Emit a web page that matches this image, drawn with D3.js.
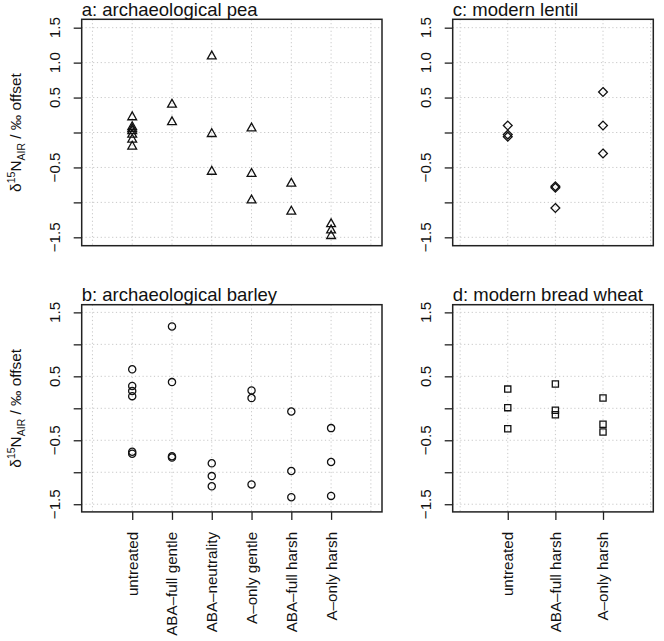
<!DOCTYPE html>
<html>
<head>
<meta charset="utf-8">
<script src="https://cdn.jsdelivr.net/npm/d3@7"></script>
<style>
  html, body { margin: 0; padding: 0; background: #fff; }
  svg { display: block; font-family: "Liberation Sans", Arial, Helvetica, sans-serif; }
</style>
</head>
<body>
<svg id="chart" width="664" height="641"></svg>
<script>
// ---------- data ----------
const archCategories = ["untreated", "ABA-full gentle", "ABA-neutrality", "A-only gentle", "ABA-full harsh", "A-only harsh"];
const modernCategories = ["untreated", "ABA-full harsh", "A-only harsh"];

// δ15N offsets per category (‰)
const peaValues = [
  [0.22, 0.08, 0.05, 0.02, -0.03, -0.10, -0.20],
  [0.40, 0.15],
  [1.09, -0.02, -0.56],
  [0.06, -0.59, -0.97],
  [-0.73, -1.13],
  [-1.31, -1.40, -1.48]
];
const barleyValues = [
  [0.61, 0.35, 0.27, 0.19, -0.68, -0.71],
  [1.28, 0.41, -0.75, -0.77],
  [-0.86, -1.06, -1.22],
  [0.28, 0.16, -1.19],
  [-0.05, -0.98, -1.39],
  [-0.31, -0.84, -1.37]
];
const lentilValues = [
  [0.10, -0.03, -0.06],
  [-0.77, -0.79, -1.08],
  [0.58, 0.10, -0.30]
];
const wheatValues = [
  [0.30, 0.01, -0.32],
  [0.38, -0.03, -0.10],
  [0.16, -0.25, -0.37]
];

const yGridValues = [-1.5, -1.0, -0.5, 0, 0.5, 1.0, 1.5];
const yTickLabelsTop = [1.5, 1.0, 0.5, -0.5, -1.5];
const yTickLabelsBottom = [1.5, 0.5, -0.5, -1.5];
const panelTitles = ["a: archaeological pea", "b: archaeological barley", "c: modern lentil", "d: modern bread wheat"];

// ---------- layout ----------
const svg = d3.select("#chart");
const fmt = d3.format(".1f");
const tickFont = 15.2, titleFont = 18.5;

const boxTop = { x0: 81.7, x1: 382, y0: 19.3, y1: 245.7 };
const panels = [
  { title: panelTitles[0], cats: archCategories, values: peaValues, shape: "triangle",
    box: { x0: 81.7, x1: 382, y0: 19.3, y1: 245.7 }, xdom: [-0.27, 7.28], grid: d3.range(0, 8),
    labels: yTickLabelsTop, xAxis: false, ylab: true },
  { title: panelTitles[1], cats: archCategories, values: barleyValues, shape: "circle",
    box: { x0: 81.7, x1: 382, y0: 304.7, y1: 511.9 }, xdom: [-0.27, 7.28], grid: d3.range(0, 8),
    labels: yTickLabelsBottom, xAxis: true, ylab: true },
  { title: panelTitles[2], cats: modernCategories, values: lentilValues, shape: "diamond",
    box: { x0: 452.7, x1: 653.3, y0: 19.3, y1: 245.7 }, xdom: [-0.156, 4.056], grid: d3.range(0, 5),
    labels: yTickLabelsTop, xAxis: false, ylab: false },
  { title: panelTitles[3], cats: modernCategories, values: wheatValues, shape: "square",
    box: { x0: 452.7, x1: 653.3, y0: 304.7, y1: 511.9 }, xdom: [-0.156, 4.056], grid: d3.range(0, 5),
    labels: yTickLabelsBottom, xAxis: true, ylab: false }
];

function shapePath(shape) {
  if (shape === "triangle") {
    const w = 8.8, h = 7.8;
    return `M0,${-2*h/3}L${w/2},${h/3}L${-w/2},${h/3}Z`;
  }
  if (shape === "diamond") {
    const r = 4.4;
    return `M0,${-r}L${r},0L0,${r}L${-r},0Z`;
  }
  if (shape === "square") {
    const s = 3.1;
    return `M${-s},${-s}L${s},${-s}L${s},${s}L${-s},${s}Z`;
  }
  const r = 3.6;
  return `M${r},0A${r},${r} 0 1,1 ${-r},0A${r},${r} 0 1,1 ${r},0Z`;
}

panels.forEach(p => {
  const b = p.box;
  const x = d3.scaleLinear().domain(p.xdom).range([b.x0, b.x1]);
  const y = d3.scaleLinear().domain([-1.62, 1.62]).range([b.y1, b.y0]);
  const g = svg.append("g");

  // grid (dotted light gray)
  g.selectAll(".hg").data(yGridValues).enter().append("line")
    .attr("x1", b.x0).attr("x2", b.x1)
    .attr("y1", d => y(d)).attr("y2", d => y(d))
    .attr("stroke", "#c8c8c8").attr("stroke-width", 1).attr("stroke-dasharray", "1.2,2.6");
  g.selectAll(".vg").data(p.grid).enter().append("line")
    .attr("y1", b.y0).attr("y2", b.y1)
    .attr("x1", d => x(d)).attr("x2", d => x(d))
    .attr("stroke", "#c8c8c8").attr("stroke-width", 1).attr("stroke-dasharray", "1.2,2.6");

  // y axis (ticks at all grid values, labels on a subset)
  const yAxis = d3.axisLeft(y).tickValues(yGridValues).tickSize(8).tickFormat("");
  const ya = g.append("g").attr("transform", `translate(${b.x0},0)`).call(yAxis);
  ya.select(".domain").remove();
  ya.selectAll(".tick line").attr("stroke", "#222").attr("stroke-width", 1.3);
  g.selectAll(".ylbl").data(p.labels).enter().append("text")
    .attr("transform", d => `translate(${b.x0 - 22},${y(d)}) rotate(-90)`)
    .attr("text-anchor", "middle")
    .attr("font-size", tickFont)
    .attr("fill", "#111")
    .text(d => fmt(d));

  // x axis
  if (p.xAxis) {
    const positions = p.cats.map((c, i) => i + 1);
    const xAxis = d3.axisBottom(x).tickValues(positions).tickSize(8).tickFormat("");
    const xa = g.append("g").attr("transform", `translate(0,${b.y1})`).call(xAxis);
    xa.select(".domain").remove();
    xa.selectAll(".tick line").attr("stroke", "#222").attr("stroke-width", 1.3);
    g.selectAll(".xlbl").data(p.cats).enter().append("text")
      .attr("transform", (d, i) => `translate(${x(i + 1)},${b.y1 + 20}) rotate(-90)`)
      .attr("text-anchor", "end")
      .attr("dy", "0.36em")
      .attr("font-size", tickFont)
      .attr("fill", "#111")
      .text(d => d.replace("-", "\u2013"));
  }

  // box
  g.append("rect").attr("x", b.x0).attr("y", b.y0)
    .attr("width", b.x1 - b.x0).attr("height", b.y1 - b.y0)
    .attr("fill", "none").attr("stroke", "#222").attr("stroke-width", 1.5);

  // title
  g.append("text").attr("x", b.x0).attr("y", b.y0 - 3.5)
    .attr("font-size", titleFont).attr("fill", "#111")
    .text(p.title);

  // points
  const pts = [];
  p.values.forEach((vals, i) => vals.forEach(v => pts.push({ cat: i + 1, v })));
  g.selectAll(".pt").data(pts).enter().append("path")
    .attr("transform", d => `translate(${x(d.cat)},${y(d.v)})`)
    .attr("d", shapePath(p.shape))
    .attr("fill", "none").attr("stroke", "#111").attr("stroke-width", 1.3);

  // y axis title
  if (p.ylab) {
    const cy = (b.y0 + b.y1) / 2;
    const t = svg.append("text")
      .attr("transform", `translate(21,${cy}) rotate(-90)`)
      .attr("text-anchor", "middle")
      .attr("font-size", 15.4)
      .attr("fill", "#111");
    t.append("tspan").text("\u03B4");
    t.append("tspan").attr("font-size", 10.5).attr("dy", -6).text("15");
    t.append("tspan").attr("dy", 6).text("N");
    t.append("tspan").attr("font-size", 10.5).attr("dy", 4).text("AIR");
    t.append("tspan").attr("dy", -4).text(" / \u2030 offset");
  }
});
</script>
</body>
</html>
